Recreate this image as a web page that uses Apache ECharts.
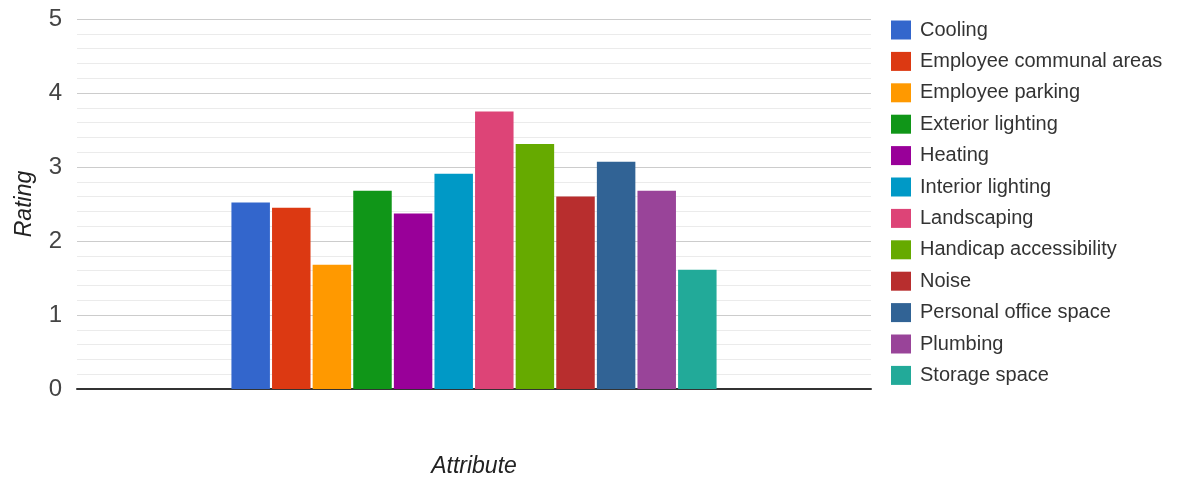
<!DOCTYPE html>
<html>
<head>
<meta charset="utf-8">
<script src="https://cdn.jsdelivr.net/npm/echarts@6/dist/echarts.min.js"></script>
<style>
html,body{margin:0;padding:0;background:#fff;}
#chart{width:1178px;height:483px;}
</style>
</head>
<body>
<div id="chart"></div>
<script>
const categories = [''];
const seriesNames = ['Cooling','Employee communal areas','Employee parking','Exterior lighting','Heating','Interior lighting','Landscaping','Handicap accessibility','Noise','Personal office space','Plumbing','Storage space'];
const seriesValues = [2.52, 2.45, 1.68, 2.68, 2.37, 2.91, 3.75, 3.31, 2.60, 3.07, 2.68, 1.61];
const colors = ['#3366cc','#dc3912','#ff9900','#109618','#990099','#0099c6','#dd4477','#66aa00','#b82e2e','#316395','#994499','#22aa99'];
const yTicks = [0, 1, 2, 3, 4, 5];
const xTitle = 'Attribute';
const yTitle = 'Rating';

const font = '"Liberation Sans", Arial, sans-serif';
const chart = echarts.init(document.getElementById('chart'));
chart.setOption({
  animation: false,
  color: colors,
  grid: {left: 77, right: 307, top: 19, height: 374, containLabel: false},
  legend: {
    orient: 'vertical', left: 886, top: 15,
    itemWidth: 20, itemHeight: 19, itemGap: 11.4,
    icon: 'rect',
    textStyle: {fontFamily: font, fontSize: 20, color: '#333', lineHeight: 19, padding: [0,0,0,4]},
    data: seriesNames
  },
  xAxis: {
    type: 'category', data: categories,
    name: xTitle, nameLocation: 'middle', nameGap: 66,
    nameTextStyle: {fontFamily: font, fontSize: 23, fontStyle: 'italic', color: '#222'},
    axisLine: {show: true, lineStyle: {color: '#333', width: 2}},
    axisTick: {show: false}, axisLabel: {show: false}
  },
  yAxis: {
    type: 'value', min: yTicks[0], max: yTicks[yTicks.length-1], interval: 1,
    name: yTitle, nameLocation: 'middle', nameGap: 41, nameRotate: 90,
    nameTextStyle: {fontFamily: font, fontSize: 23, fontStyle: 'italic', color: '#222'},
    axisLine: {show: false}, axisTick: {show: false},
    axisLabel: {fontFamily: font, fontSize: 24, color: '#444', margin: 15},
    splitLine: {lineStyle: {color: '#cccccc', width: 1}},
    minorTick: {show: false, splitNumber: 5},
    minorSplitLine: {show: true, lineStyle: {color: '#ebebeb', width: 1}}
  },
  series: seriesNames.map((n, i) => ({
    name: n, type: 'bar',
    data: [seriesValues[i]],
    barGap: '5.5%', barCategoryGap: '38.9%',
    itemStyle: {color: colors[i]}
  }))
});
</script>
</body>
</html>
